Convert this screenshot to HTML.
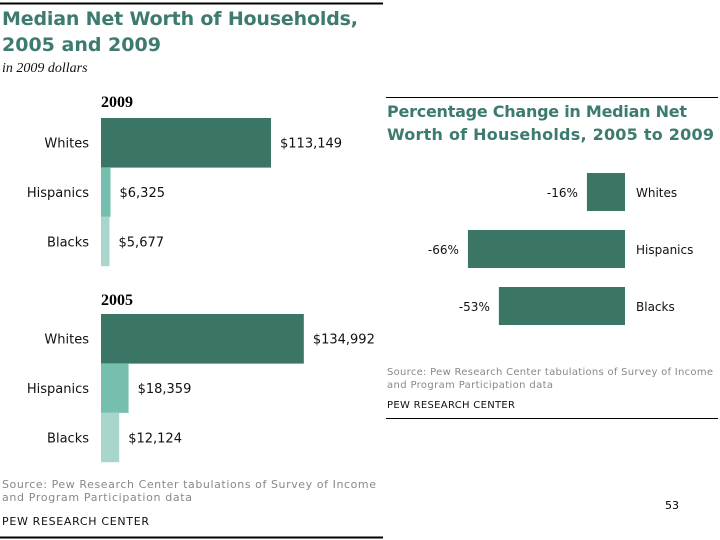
<!DOCTYPE html>
<html><head><meta charset="utf-8"><style>
body{margin:0;background:#fff;width:720px;height:540px;overflow:hidden}
svg{display:block}
text{font-family:"DejaVu Sans","Liberation Sans",sans-serif}
</style></head><body>
<svg id="c" width="720" height="540">
<line x1="0" y1="3.5" x2="383" y2="3.5" stroke="#000" stroke-width="2"/>
<text x="2" y="25" font-size="19" font-weight="bold" fill="#3d7a70" textLength="356">Median Net Worth of Households,</text>
<text x="2" y="51" font-size="19" font-weight="bold" fill="#3d7a70">2005 and 2009</text>
<text x="2" y="72" font-size="14" font-style="italic" fill="#111" style="font-family:'Liberation Serif',serif">in 2009 dollars</text>
<text x="101" y="107" font-size="16" font-weight="bold" fill="#000" style="font-family:'Liberation Serif',serif">2009</text>
<text x="101" y="305" font-size="16" font-weight="bold" fill="#000" style="font-family:'Liberation Serif',serif">2005</text>
<g id="left"></g>
<text x="2" y="488" font-size="11" fill="#888" textLength="374">Source: Pew Research Center tabulations of Survey of Income</text>
<text x="2" y="501" font-size="11" fill="#888" textLength="190">and Program Participation data</text>
<text x="2" y="525" font-size="11" fill="#111" textLength="147">PEW RESEARCH CENTER</text>
<line x1="0" y1="537.5" x2="383" y2="537.5" stroke="#000" stroke-width="2"/>

<line x1="386" y1="97.5" x2="718" y2="97.5" stroke="#000" stroke-width="1"/>
<text x="387" y="117" font-size="16" font-weight="bold" fill="#3d7a70" textLength="300">Percentage Change in Median Net</text>
<text x="387" y="140" font-size="16" font-weight="bold" fill="#3d7a70" textLength="327">Worth of Households, 2005 to 2009</text>
<g id="right"></g>
<text x="387" y="375" font-size="10" fill="#888" textLength="326">Source: Pew Research Center tabulations of Survey of Income</text>
<text x="387" y="388" font-size="10" fill="#888" textLength="166">and Program Participation data</text>
<text x="387" y="408" font-size="10" fill="#111" textLength="128">PEW RESEARCH CENTER</text>
<line x1="386" y1="418.5" x2="718" y2="418.5" stroke="#000" stroke-width="1"/>
<text x="665" y="509" font-size="11" fill="#000">53</text>
</svg>
<script>
const groups = ["Whites","Hispanics","Blacks"];
const worth2009 = [113149, 6325, 5677];
const worth2005 = [134992, 18359, 12124];
const pctChange = [-16, -66, -53];
const colors = ["#3a7565","#76bfae","#a8d5cc"];
const NS="http://www.w3.org/2000/svg";
function mk(tag, attrs, parent){const e=document.createElementNS(NS,tag);for(const k in attrs)e.setAttribute(k,attrs[k]);parent.appendChild(e);return e;}
const left=document.getElementById('left'), right=document.getElementById('right');
const x0=101, pxPerDollar=170/113149, bh=49.3;
function fmt(v){return "$"+v.toLocaleString("en-US");}
function panel(vals, top, yr){
  vals.forEach((v,i)=>{
    const y=top+i*bh, w=v*pxPerDollar;
    const r=mk('rect',{x:x0,y:y,width:w,height:bh+0.3,fill:colors[i]},left);
    
    
    const l=mk('text',{x:89,y:y+bh/2+5,'text-anchor':'end','font-size':13,fill:'#111'},left);
    l.textContent=groups[i];
    
    
    const t=mk('text',{x:x0+w+9,y:y+bh/2+5,'font-size':13,fill:'#111'},left);
    t.textContent=fmt(v);
    
    
  });
}
panel(worth2009,118,'2009');
panel(worth2005,314,'2005');
const zx=625, pxPerPct=2.38;
pctChange.forEach((v,i)=>{
  const y=173+i*57, w=-v*pxPerPct;
  const r=mk('rect',{x:zx-w,y:y,width:w,height:38,fill:'#3a7565'},right);
  
  
  const t=mk('text',{x:zx-w-9,y:y+24,'text-anchor':'end','font-size':12,fill:'#111'},right);
  t.textContent=v+"%";
  
  
  const l=mk('text',{x:636,y:y+24,'font-size':12,fill:'#111'},right);
  l.textContent=groups[i];
  
  
});
</script>
</body></html>
